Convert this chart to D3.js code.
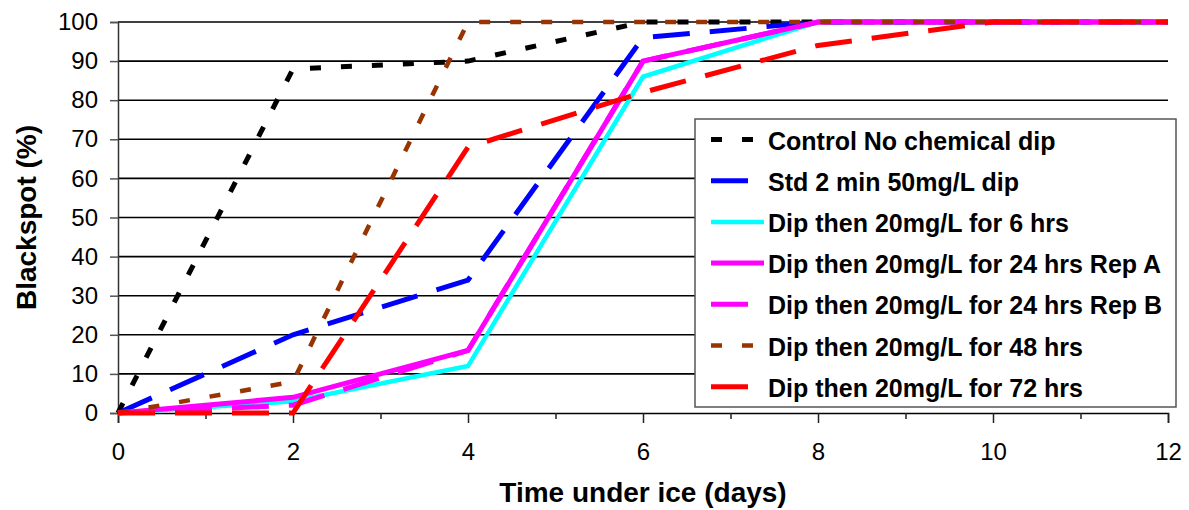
<!DOCTYPE html>
<html>
<head>
<meta charset="utf-8">
<script src="https://cdn.jsdelivr.net/npm/d3@7"></script>
<style>
  html, body { margin: 0; padding: 0; background: #fff; }
  svg { display: block; font-family: "Liberation Sans", Arial, sans-serif; }
</style>
</head>
<body>
<svg id="chart" width="1189" height="510"></svg>
<script>
// Days under ice at which blackspot was scored
const days = [0, 2, 4, 6, 8, 10, 12];

// Blackspot incidence (%) per treatment
const control = [0, 88, 90, 100, 100, 100, 100];
const std2min = [0, 20, 34, 96, 100, 100, 100];
const dip6 = [0, 3, 12, 86, 100, 100, 100];
const dip24A = [0, 4, 16, 90, 100, 100, 100];
const dip24B = [0, 2, 16, 90, 100, 100, 100];
const dip48 = [0, 8, 100, 100, 100, 100, 100];
const dip72 = [0, 0, 68, 82, 94, 100, 100];

const seriesNames = [
  "Control No chemical dip",
  "Std 2 min 50mg/L dip",
  "Dip then 20mg/L for 6 hrs",
  "Dip then 20mg/L for 24 hrs Rep A",
  "Dip then 20mg/L for 24 hrs Rep B",
  "Dip then 20mg/L for 48 hrs",
  "Dip then 20mg/L for 72 hrs"
];
const seriesValues = [control, std2min, dip6, dip24A, dip24B, dip48, dip72];

const xTicks = [0, 2, 4, 6, 8, 10, 12];
const xMinorTicks = [1, 3, 5, 7, 9, 11];
const yTicks = [0, 10, 20, 30, 40, 50, 60, 70, 80, 90, 100];

// Stroke styles per series
const styles = [
  { color: "#000000", width: 5, dash: "11,20" },
  { color: "#0000ff", width: 5, dash: "37,20" },
  { color: "#00ffff", width: 4.5, dash: null },
  { color: "#ff00ff", width: 5, dash: null },
  { color: "#ff00ff", width: 5, dash: "37,20" },
  { color: "#993300", width: 4.5, dash: "11,20" },
  { color: "#ff0000", width: 5, dash: "37,20" }
];

const svg = d3.select("#chart");
const plotLeft = 118, plotRight = 1168, plotTop = 22, plotBottom = 413;

const x = d3.scaleLinear().domain([0, 12]).range([plotLeft, plotRight]);
const y = d3.scaleLinear().domain([0, 100]).range([plotBottom, plotTop]);

// Horizontal gridlines
svg.append("g")
  .selectAll("line")
  .data(yTicks.filter(d => d > 0))
  .join("line")
  .attr("x1", plotLeft).attr("x2", plotRight)
  .attr("y1", d => y(d)).attr("y2", d => y(d))
  .attr("stroke", "#000").attr("stroke-width", 1.6);

// Y axis
const yAxis = svg.append("g")
  .attr("transform", `translate(${plotLeft},0)`)
  .call(d3.axisLeft(y).tickValues(yTicks).tickSize(8).tickPadding(12));
yAxis.select(".domain").attr("stroke", "#333").attr("stroke-width", 1.5);
yAxis.selectAll(".tick line").attr("stroke", "#555").attr("stroke-width", 1.5);
yAxis.selectAll("text").attr("font-size", 24).attr("fill", "#000")
  .attr("font-family", "Liberation Sans, Arial, sans-serif");

// X axis with major and minor ticks
const xAxis = svg.append("g")
  .attr("transform", `translate(0,${plotBottom})`)
  .call(d3.axisBottom(x).tickValues(xTicks).tickSize(10).tickPadding(20));
xAxis.select(".domain").attr("stroke", "#000").attr("stroke-width", 1.5);
xAxis.selectAll(".tick line").attr("stroke", "#222").attr("stroke-width", 1.5);
xAxis.selectAll("text").attr("font-size", 24).attr("fill", "#000")
  .attr("font-family", "Liberation Sans, Arial, sans-serif");

svg.append("g")
  .attr("transform", `translate(0,${plotBottom})`)
  .call(d3.axisBottom(x).tickValues(xMinorTicks).tickSize(6).tickFormat(""))
  .call(g => g.select(".domain").remove())
  .call(g => g.selectAll(".tick line").attr("stroke", "#222").attr("stroke-width", 1.5));

// Series lines
const line = d3.line().x((d, i) => x(days[i])).y(d => y(d));
svg.append("g")
  .selectAll("path")
  .data(seriesValues)
  .join("path")
  .attr("d", d => line(d))
  .attr("fill", "none")
  .attr("stroke", (d, i) => styles[i].color)
  .attr("stroke-width", (d, i) => styles[i].width)
  .attr("stroke-dasharray", (d, i) => styles[i].dash)
  .attr("stroke-linejoin", "miter");

// Axis titles
svg.append("text")
  .attr("x", (plotLeft + plotRight) / 2).attr("y", 502)
  .attr("text-anchor", "middle")
  .attr("font-size", 28).attr("font-weight", "bold")
  .text("Time under ice (days)");

svg.append("text")
  .attr("transform", `translate(36,${(plotTop + plotBottom) / 2}) rotate(-90)`)
  .attr("text-anchor", "middle")
  .attr("font-size", 28).attr("font-weight", "bold")
  .text("Blackspot (%)");

// Legend
const legend = svg.append("g");
legend.append("rect")
  .attr("x", 695).attr("y", 119)
  .attr("width", 481).attr("height", 288)
  .attr("fill", "#fff").attr("stroke", "#555").attr("stroke-width", 1.5);

const rows = legend.selectAll("g.row")
  .data(seriesNames)
  .join("g")
  .attr("class", "row")
  .attr("transform", (d, i) => `translate(0,${149.5 + i * 41.2})`);

rows.append("line")
  .attr("x1", 711).attr("x2", 764)
  .attr("y1", -10).attr("y2", -10)
  .attr("stroke", (d, i) => styles[i].color)
  .attr("stroke-width", (d, i) => styles[i].width)
  .attr("stroke-dasharray", (d, i) => styles[i].dash);

rows.append("text")
  .attr("x", 768).attr("y", 0)
  .attr("font-size", 25).attr("font-weight", "bold")
  .text(d => d);
</script>
</body>
</html>
